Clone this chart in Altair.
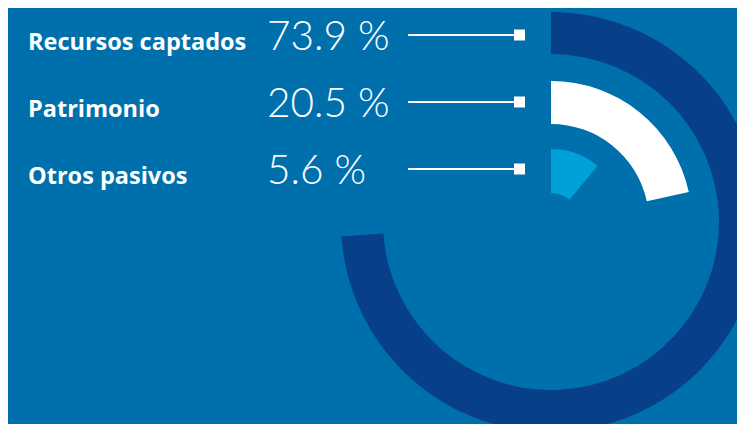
import altair as alt
import pandas as pd

categories = ["Recursos captados", "Patrimonio", "Otros pasivos"]
share_labels = ["73.9 %", "20.5 %", "5.6 %"]
# angular extent of each ring as drawn in the picture (percent of a full turn)
arc_extent = [73.9, 21.6, 11.0]

ring_colors = ["#073f88", "#ffffff", "#00a0d8"]
ring_outer = [210, 141, 73]
ring_inner = [168, 98, 29]

df = pd.DataFrame({"cat": categories, "extent": arc_extent, "label": share_labels})

W, H = 729, 416
CX, CY = 543, 214

yscale = alt.Scale(type="point", domain=categories, range=[42, 176], padding=0)
tscale = alt.Scale(domain=[0, 100], range=[0, 6.283185307])

base = alt.Chart(df)

arcs = []
for i, c in enumerate(categories):
    arcs.append(
        base.transform_filter(alt.datum.cat == c)
        .transform_calculate(start="0")
        .mark_arc(color=ring_colors[i], radius=ring_outer[i], radius2=ring_inner[i])
        .encode(
            theta=alt.Theta("start:Q", scale=tscale, stack=None),
            theta2="extent:Q",
            x=alt.value(CX),
            y=alt.value(CY),
        )
    )

names = base.mark_text(
    align="left", baseline="alphabetic", font="Open Sans", fontWeight="bold",
    fontSize=23.5, color="white"
).encode(x=alt.value(20), y=alt.Y("cat:N", scale=yscale, axis=None), text="cat:N")

pcts = base.mark_text(
    align="left", baseline="alphabetic", font="Lato", fontWeight=300,
    fontSize=40.5, color="white"
).encode(x=alt.value(259), y=alt.Y("cat:N", scale=yscale, axis=None), text="label:N")

rules = base.mark_rule(color="white", strokeWidth=2, yOffset=-15).encode(
    x=alt.value(400), x2=alt.value(508), y=alt.Y("cat:N", scale=yscale, axis=None)
)

squares = base.mark_square(color="white", size=121, opacity=1, yOffset=-15).encode(
    x=alt.value(511.5), y=alt.Y("cat:N", scale=yscale, axis=None)
)

chart = alt.layer(*arcs, rules, squares, names, pcts).properties(
    width=W, height=H, padding=0, autosize=alt.AutoSizeParams(type="none")
).configure(background="#0070ad").configure_view(stroke=None)

chart.save("out.html", embed_options={"renderer": "svg", "actions": False})
